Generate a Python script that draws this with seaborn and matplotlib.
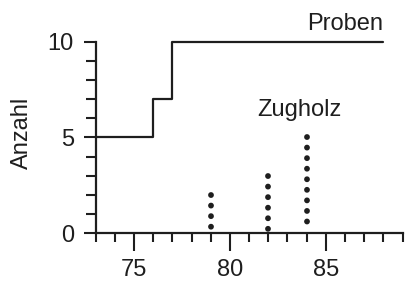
import matplotlib
matplotlib.use('AGG')
import matplotlib.pyplot as plt
import seaborn as sns
import pandas as pd

# Proben: cumulative count, step curve
proben_x = [73, 76, 77, 88]
proben_y = [5, 7, 10, 10]

# Zugholz: dotted columns
zug_x = [79, 82, 84]
zug_n = [2, 3, 5]

x_major = [75, 80, 85]
x_minor = list(range(73, 90))
y_major = [0, 5, 10]
y_minor = list(range(0, 11))

sns.set_style('white')
plt.rcParams['font.family'] = ['Liberation Sans', 'DejaVu Sans']
ink = '#1e1e1e'

fig = plt.figure(figsize=(4.06, 2.87), dpi=100)
ax = fig.add_axes([0.2355, 0.188, 0.756, 0.799])

df = pd.DataFrame({'x': proben_x, 'y': proben_y})
sns.lineplot(data=df, x='x', y='y', ax=ax, color=ink, linewidth=1.6,
             drawstyle='steps-post', sort=False, estimator=None)

dots = ax.vlines(zug_x, zug_n, [0.15] * len(zug_x), colors=ink,
                 linewidth=4.2, linestyles=[(0, (0.01, 1.8))])
dots.set_capstyle('round')

ax.text(84.0, 10.6, 'Proben', fontsize=17, color=ink, ha='left', va='baseline')
ax.text(81.4, 6.1, 'Zugholz', fontsize=17, color=ink, ha='left', va='baseline')

ax.set_xlim(73, 89)
ax.set_ylim(0, 12)
sns.despine(ax=ax)
for side in ['left', 'bottom']:
    ax.spines[side].set_color(ink)
    ax.spines[side].set_linewidth(1.6)
ax.spines['left'].set_bounds(0, 10)
ax.spines['bottom'].set_bounds(73, 89)

ax.set_xticks(x_major)
ax.set_xticks(x_minor, minor=True)
ax.set_yticks(y_major)
ax.set_yticks(y_minor, minor=True)
ax.tick_params(axis='x', which='major', direction='out', length=13, width=1.5,
               color=ink, labelsize=17, labelcolor=ink, pad=6, bottom=True)
ax.tick_params(axis='x', which='minor', direction='out', length=6.5, width=1.5,
               color=ink, bottom=True)
ax.tick_params(axis='y', which='major', direction='out', length=8.6, width=1.5,
               color=ink, labelsize=17, labelcolor=ink, pad=7, left=True)
ax.tick_params(axis='y', which='minor', direction='out', length=7.2, width=1.5,
               color=ink, left=True)

ax.set_xlabel('')
ax.set_ylabel('Anzahl', fontsize=17, color=ink)
ax.yaxis.set_label_coords(-0.205, 0.435)

plt.savefig('out.png', dpi=100)
plt.close(fig)
